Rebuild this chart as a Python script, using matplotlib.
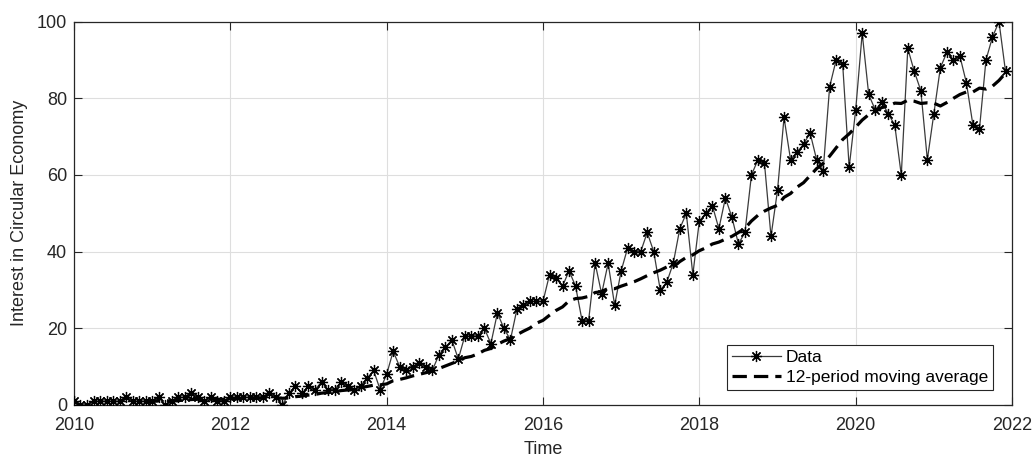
import matplotlib
matplotlib.use('Agg')
import matplotlib.pyplot as plt
import numpy as np
import pandas as pd

plt.rcParams['font.family'] = ['Liberation Sans', 'DejaVu Sans']

# monthly search interest, Jan 2010 - Dec 2021
start_year = 2010
interest = [
    1, 0, 0, 1, 1, 1, 1, 1, 2, 1, 1, 1,          # 2010
    1, 2, 0, 1, 2, 2, 3, 2, 1, 2, 1, 1,          # 2011
    2, 2, 2, 2, 2, 2, 3, 2, 0, 3, 5, 3,          # 2012
    5, 4, 6, 4, 4, 6, 5, 4, 5, 7, 9, 4,          # 2013
    8, 14, 10, 9, 10, 11, 10, 9, 13, 15, 17, 12,  # 2014
    18, 18, 18, 20, 16, 24, 20, 17, 25, 26, 27, 27,  # 2015
    27, 34, 33, 31, 35, 31, 22, 22, 37, 29, 37, 26,  # 2016
    35, 41, 40, 40, 45, 40, 30, 32, 37, 46, 50, 34,  # 2017
    48, 50, 52, 46, 54, 49, 42, 45, 60, 64, 63, 44,  # 2018
    56, 75, 64, 66, 68, 71, 64, 61, 83, 90, 89, 62,  # 2019
    77, 97, 81, 77, 79, 76, 73, 60, 93, 87, 82, 64,  # 2020
    76, 88, 92, 90, 91, 84, 73, 72, 90, 96, 100, 87,  # 2021
]
window = 12

x_ticks = [2010, 2012, 2014, 2016, 2018, 2020, 2022]
y_ticks = [0, 20, 40, 60, 80, 100]

s = pd.Series(interest, dtype=float)
t = start_year + np.arange(len(s)) / 12
ma = s.rolling(window).mean()

axis_col = '#262626'

fig = plt.figure(figsize=(10.33, 4.61), dpi=100)
ax = fig.add_axes([0.0716, 0.1215, 0.9081, 0.8315])

ax.plot(t, s, color='#3a3a3a', lw=0.9, marker=(8, 2, 0), ms=8,
        mec='black', mfc='black', mew=0.9, label='Data', zorder=3)
ax.plot(t, ma, color='black', lw=2.3, linestyle=(0, (4.5, 2.2)),
        label='12-period moving average', zorder=4)

ax.set_xlim(2010, 2022)
ax.set_ylim(0, 100)
ax.set_xticks(x_ticks)
ax.set_yticks(y_ticks)
ax.grid(True, color='#dedede', lw=0.8)
ax.set_axisbelow(True)

ax.tick_params(direction='in', length=6, width=0.8, top=True, right=True,
               labelsize=13, colors=axis_col)
ax.tick_params(axis='x', pad=9)
ax.tick_params(axis='y', pad=5)
for sp in ax.spines.values():
    sp.set_color(axis_col)
    sp.set_linewidth(0.9)

ax.set_xlabel('Time', fontsize=13, color=axis_col, labelpad=5)
ax.set_ylabel('Interest in Circular Economy', fontsize=13, color=axis_col, labelpad=6)

leg = ax.legend(loc='lower right', bbox_to_anchor=(0.98, 0.039), borderaxespad=0,
                fontsize=12.5, fancybox=False, framealpha=1, edgecolor=axis_col,
                handlelength=2.8, handletextpad=0.3, borderpad=0.3, labelspacing=0.25)
leg.get_frame().set_linewidth(0.8)

fig.savefig('out.png', dpi=100)
